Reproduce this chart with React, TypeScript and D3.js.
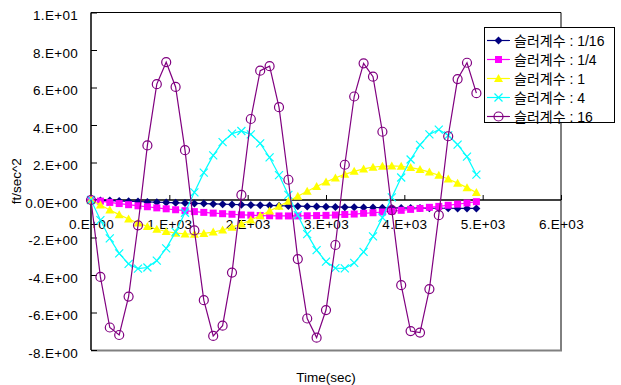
import React, { useEffect, useRef } from "react";
import * as d3 from "d3";

// time axis (sec)
const times = [
  0, 120, 240, 360, 480, 600, 720, 840, 960, 1080, 1200, 1320, 1440, 1560,
  1680, 1800, 1920, 2040, 2160, 2280, 2400, 2520, 2640, 2760, 2880, 3000,
  3120, 3240, 3360, 3480, 3600, 3720, 3840, 3960, 4080, 4200, 4320, 4440,
  4560, 4680, 4800, 4920,
];

// acceleration (ft/sec^2) per slurry coefficient
const s1_16 = [
  0, -0.02, -0.03, -0.05, -0.07, -0.08, -0.1, -0.12, -0.13, -0.15, -0.16,
  -0.18, -0.19, -0.21, -0.22, -0.24, -0.25, -0.26, -0.28, -0.29, -0.3, -0.32,
  -0.33, -0.34, -0.35, -0.36, -0.37, -0.38, -0.39, -0.4, -0.4, -0.41, -0.42,
  -0.42, -0.43, -0.43, -0.44, -0.44, -0.44, -0.45, -0.45, -0.45,
];
const s1_4 = [
  0, -0.06, -0.13, -0.19, -0.25, -0.31, -0.36, -0.42, -0.47, -0.52, -0.57,
  -0.62, -0.66, -0.7, -0.73, -0.76, -0.79, -0.81, -0.83, -0.84, -0.85, -0.85,
  -0.85, -0.84, -0.83, -0.82, -0.8, -0.77, -0.75, -0.71, -0.68, -0.64, -0.6,
  -0.55, -0.5, -0.45, -0.39, -0.34, -0.28, -0.22, -0.16, -0.09,
];
const s1 = [
  0, -0.27, -0.53, -0.78, -1.01, -1.23, -1.41, -1.56, -1.68, -1.77, -1.81,
  -1.82, -1.78, -1.71, -1.6, -1.45, -1.28, -1.07, -0.84, -0.59, -0.33, -0.07,
  0.2, 0.47, 0.72, 0.96, 1.18, 1.37, 1.53, 1.66, 1.75, 1.8, 1.82, 1.8, 1.73,
  1.63, 1.49, 1.32, 1.12, 0.9, 0.66, 0.4,
];
const s4 = [
  0, -1.07, -2.05, -2.85, -3.41, -3.66, -3.6, -3.23, -2.58, -1.7, -0.68, 0.41,
  1.46, 2.38, 3.09, 3.54, 3.68, 3.5, 3.02, 2.27, 1.33, 0.27, -0.81, -1.82,
  -2.67, -3.29, -3.63, -3.65, -3.35, -2.77, -1.94, -0.94, 0.14, 1.2, 2.16,
  2.94, 3.5, 3.75, 3.45, 2.95, 2.31, 1.35,
];
const s16 = [
  0, -4.1, -6.8, -7.2, -5.15, -1.35, 2.91, 6.18, 7.35, 6.03, 2.66, -1.62,
  -5.34, -7.25, -6.7, -3.87, 0.27, 4.32, 6.9, 7.14, 4.95, 1.08, -3.15, -6.32,
  -7.34, -5.87, -2.4, 1.88, 5.52, 7.29, 6.58, 3.64, -0.54, -4.54, -6.99,
  -7.07, -4.75, -0.81, 3.4, 6.45, 7.32, 5.7,
];

const seriesNames = [
  "슬러계수 : 1/16",
  "슬러계수 : 1/4",
  "슬러계수 : 1",
  "슬러계수 : 4",
  "슬러계수 : 16",
];
const seriesValues = [s1_16, s1_4, s1, s4, s16];
const seriesColors = ["#000080", "#ff00ff", "#ffff00", "#00ffff", "#800080"];
const seriesMarkers = ["diamond", "square", "triangle", "x", "circle"];

const yTicks = [-8, -6, -4, -2, 0, 2, 4, 6, 8, 10];
const yTickLabels = [
  "-8.E+00", "-6.E+00", "-4.E+00", "-2.E+00", "0.0E+00",
  "2.E+00", "4.E+00", "6.E+00", "8.E+00", "1.E+01",
];
const xTicks = [0, 1000, 2000, 3000, 4000, 5000, 6000];
const xTickLabels = [
  "0.E+00", "1.E+03", "2.E+03", "3.E+03", "4.E+03", "5.E+03", "6.E+03",
];

const FONT = "'Liberation Sans', Arial, 'Noto Sans CJK KR', sans-serif";

const drawMarker = (g, type, color, cx, cy) => {
  if (type === "diamond") {
    g.append("path")
      .attr("d", `M${cx},${cy - 4}L${cx + 4},${cy}L${cx},${cy + 4}L${cx - 4},${cy}Z`)
      .attr("fill", color);
  } else if (type === "square") {
    g.append("rect")
      .attr("x", cx - 3.5)
      .attr("y", cy - 3.5)
      .attr("width", 7)
      .attr("height", 7)
      .attr("fill", color);
  } else if (type === "triangle") {
    g.append("path")
      .attr("d", `M${cx},${cy - 4.5}L${cx + 4.5},${cy + 3.5}L${cx - 4.5},${cy + 3.5}Z`)
      .attr("fill", color);
  } else if (type === "x") {
    g.append("path")
      .attr("d", `M${cx - 4},${cy - 4}L${cx + 4},${cy + 4}M${cx - 4},${cy + 4}L${cx + 4},${cy - 4}`)
      .attr("stroke", color)
      .attr("stroke-width", 1.2)
      .attr("fill", "none");
  } else {
    g.append("circle")
      .attr("cx", cx)
      .attr("cy", cy)
      .attr("r", 4.5)
      .attr("stroke", color)
      .attr("stroke-width", 1.2)
      .attr("fill", "none");
  }
};

const App = () => {
  const ref = useRef(null);

  useEffect(() => {
    const svg = d3.select(ref.current);
    svg.selectAll("*").remove();

    const left = 91;
    const right = 561;
    const top = 12.5;
    const bottom = 350;

    const x = d3.scaleLinear().domain([0, 6000]).range([left, right]);
    const y = d3.scaleLinear().domain([-8, 10]).range([bottom, top]);

    svg.append("rect").attr("width", 621).attr("height", 385).attr("fill", "white");

    // plot area frame
    svg.append("line")
      .attr("x1", left).attr("x2", right).attr("y1", top).attr("y2", top)
      .attr("stroke", "#000");
    svg.append("line")
      .attr("x1", right).attr("x2", right).attr("y1", top).attr("y2", bottom)
      .attr("stroke", "#000");
    svg.append("line")
      .attr("x1", left).attr("x2", right + 1).attr("y1", bottom + 0.5).attr("y2", bottom + 0.5)
      .attr("stroke", "#808080")
      .attr("stroke-width", 2);

    // y axis
    const yAxis = d3
      .axisLeft(y)
      .tickValues(yTicks)
      .tickFormat((d, i) => yTickLabels[i])
      .tickSizeInner(-6)
      .tickSizeOuter(0)
      .tickPadding(13);
    const gy = svg.append("g").attr("transform", `translate(${left},0)`).call(yAxis);
    gy.select(".domain").remove();
    gy.selectAll("text")
      .attr("font-family", FONT)
      .attr("font-size", 13.5)
      .attr("letter-spacing", 0.3)
      .attr("dy", "0.52em")
      .attr("fill", "#000");
    svg.append("line")
      .attr("x1", left).attr("x2", left).attr("y1", top).attr("y2", bottom)
      .attr("stroke", "#000").attr("stroke-width", 1.5);

    // x axis at zero
    const xAxis = d3
      .axisBottom(x)
      .tickValues(xTicks)
      .tickFormat((d, i) => xTickLabels[i])
      .tickSizeInner(-5)
      .tickSizeOuter(0)
      .tickPadding(19);
    const gx = svg.append("g").attr("transform", `translate(0,${y(0)})`).call(xAxis);
    gx.select(".domain").remove();
    gx.selectAll("text")
      .attr("font-family", FONT)
      .attr("font-size", 13.5)
      .attr("letter-spacing", 0.3)
      .attr("fill", "#000");
    svg.append("line")
      .attr("x1", left).attr("x2", right).attr("y1", y(0)).attr("y2", y(0))
      .attr("stroke", "#000").attr("stroke-width", 1.5);

    // axis titles
    svg.append("text")
      .attr("transform", `translate(21,${(top + bottom) / 2}) rotate(-90)`)
      .attr("text-anchor", "middle")
      .attr("font-family", FONT)
      .attr("font-size", 13.5)
      .text("ft/sec^2");
    svg.append("text")
      .attr("x", (left + right) / 2)
      .attr("y", 382)
      .attr("text-anchor", "middle")
      .attr("font-family", FONT)
      .attr("font-size", 13.5)
      .text("Time(sec)");

    // series
    const line = d3
      .line()
      .x((d) => x(d[0]))
      .y((d) => y(d[1]));

    seriesValues.forEach((vals, si) => {
      const pts = vals.map((v, i) => [times[i], v]);
      const g = svg.append("g");
      g.append("path")
        .attr("d", line(pts))
        .attr("fill", "none")
        .attr("stroke", seriesColors[si])
        .attr("stroke-width", 1.2);
      pts.forEach((p) => drawMarker(g, seriesMarkers[si], seriesColors[si], x(p[0]), y(p[1])));
    });

    // legend
    const lg = svg.append("g");
    lg.append("rect")
      .attr("x", 484.5)
      .attr("y", 27.5)
      .attr("width", 130)
      .attr("height", 95)
      .attr("fill", "white")
      .attr("stroke", "#000");
    seriesNames.forEach((name, i) => {
      const cy = 40.5 + i * 19;
      lg.append("line")
        .attr("x1", 487).attr("x2", 510).attr("y1", cy).attr("y2", cy)
        .attr("stroke", seriesColors[i]).attr("stroke-width", 1.2);
      drawMarker(lg, seriesMarkers[i], seriesColors[i], 498.5, cy);
      lg.append("text")
        .attr("x", 514)
        .attr("y", cy + 5)
        .attr("font-family", FONT)
        .attr("font-size", 14)
        .text(name);
    });
  }, []);

  return (
    <svg
      ref={ref}
      width={621}
      height={385}
      style={{ position: "absolute", left: 0, top: 0, display: "block" }}
    />
  );
};

export default App;
